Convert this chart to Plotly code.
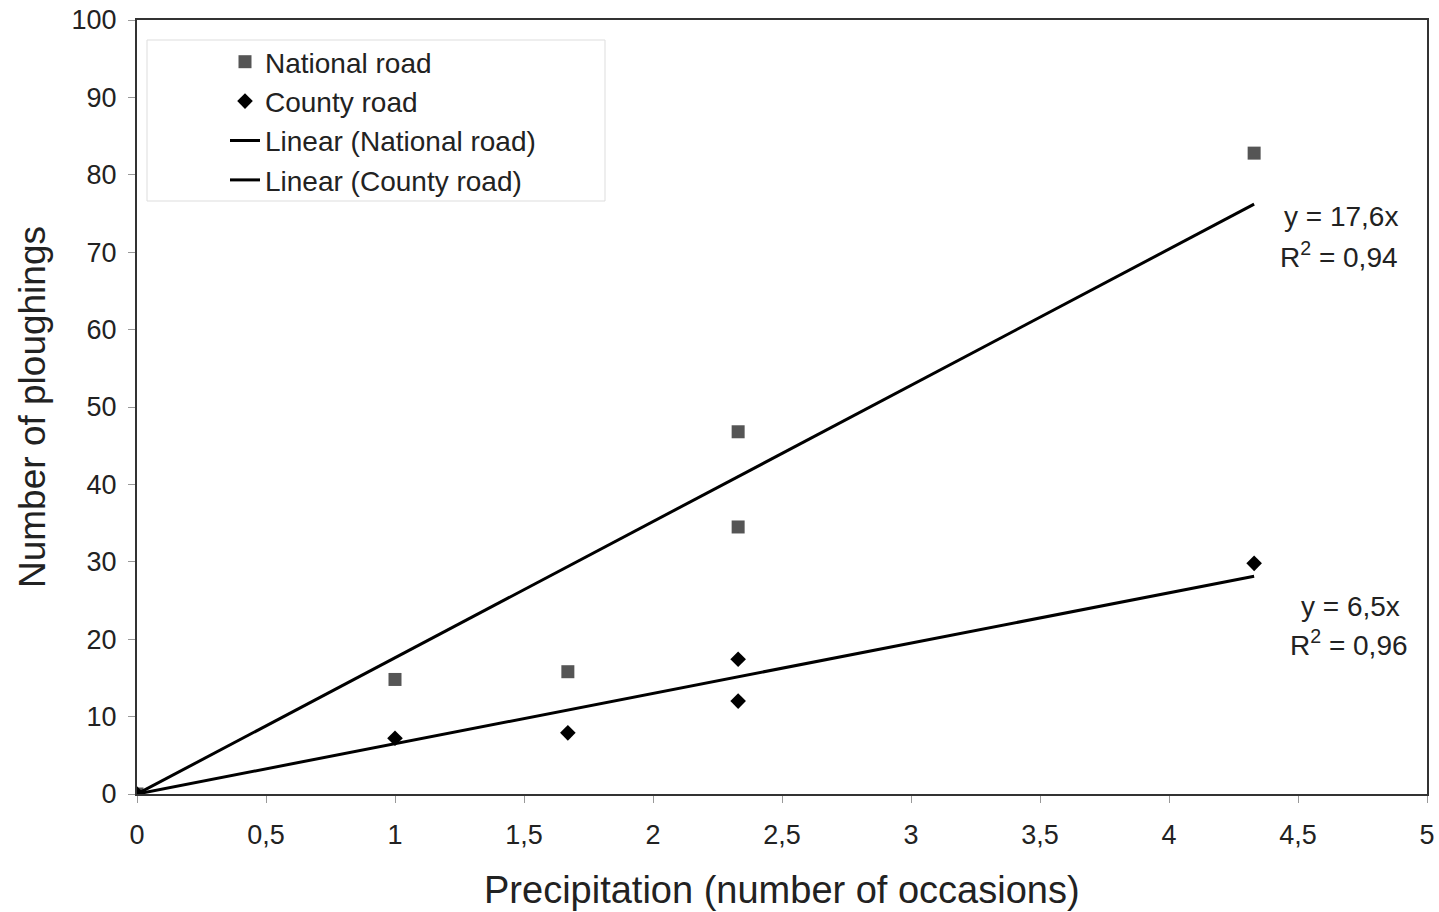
import plotly.graph_objects as go

# Data
x_national = [0, 1, 1.67, 2.33, 2.33, 4.33]
y_national = [0, 14.8, 15.8, 46.8, 34.5, 82.8]
x_county = [0, 1, 1.67, 2.33, 2.33, 4.33]
y_county = [0, 7.2, 7.9, 17.4, 12.0, 29.8]
slope_national = 17.6
slope_county = 6.5
r2_national = "0,94"
r2_county = "0,96"
trend_x = [0, 4.33]
x_ticks = [0, 0.5, 1, 1.5, 2, 2.5, 3, 3.5, 4, 4.5, 5]
x_tick_labels = ["0", "0,5", "1", "1,5", "2", "2,5", "3", "3,5", "4", "4,5", "5"]
y_ticks = list(range(0, 101, 10))

FONT = "Liberation Sans, Arial, sans-serif"
TXT = "#222222"
L, R, T, B = 137, 12, 20, 118
W, H = 1439, 912
PW, PH = W - L - R, H - T - B


def px_x(p):
    return (p - L) / PW


def px_y(p):
    return (H - B - p) / PH


fig = go.Figure()
fig.add_trace(go.Scatter(x=x_national, y=y_national, mode="markers", name="National road",
                         legendgroup="a",
                         marker=dict(symbol="square", size=13, color="#555555")))
fig.add_trace(go.Scatter(x=x_county, y=y_county, mode="markers", name="County road",
                         legendgroup="b",
                         marker=dict(symbol="diamond", size=12, color="#000000")))
fig.add_trace(go.Scatter(x=trend_x, y=[slope_national * v for v in trend_x], mode="lines",
                         name="Linear (National road)", legendgroup="c",
                         line=dict(color="#000000", width=3)))
fig.add_trace(go.Scatter(x=trend_x, y=[slope_county * v for v in trend_x], mode="lines",
                         name="Linear (County road)", legendgroup="d",
                         line=dict(color="#000000", width=3)))

eq_lines = [
    (f"y = {str(slope_national).replace('.', ',')}x", 1400, 217),
    (f"R<sup>2</sup> = {r2_national}", 1400, 255),
    (f"y = {str(slope_county).replace('.', ',')}x", 1402, 606),
    (f"R<sup>2</sup> = {r2_county}", 1410, 643),
]
for text, xr, yc in eq_lines:
    fig.add_annotation(x=px_x(xr), y=px_y(yc), xref="paper", yref="paper",
                       xanchor="right", yanchor="middle", text=text, showarrow=False,
                       font=dict(family=FONT, size=28, color=TXT))

# legend frame
fig.add_shape(type="rect", xref="paper", yref="paper",
              x0=px_x(147), x1=px_x(605), y0=px_y(201), y1=px_y(40),
              line=dict(color="#dddddd", width=1), fillcolor="white", layer="below")

fig.update_layout(
    width=W, height=H,
    margin=dict(l=L, r=R, t=T, b=B),
    plot_bgcolor="white", paper_bgcolor="white",
    font=dict(family=FONT, color=TXT),
    showlegend=True,
    legend=dict(x=px_x(225), y=px_y(37), xanchor="left", yanchor="top",
                bgcolor="rgba(0,0,0,0)", borderwidth=0,
                traceorder="grouped", tracegroupgap=0,
                font=dict(family=FONT, size=28, color=TXT)),
    xaxis=dict(range=[0, 5], tickvals=x_ticks, ticktext=x_tick_labels, automargin=False,
               showgrid=False, zeroline=False, showline=True, linecolor="#333333", linewidth=2,
               mirror=True, ticks="outside", ticklen=7, tickcolor="#999999",
               ticklabelstandoff=9,
               tickfont=dict(size=27, color=TXT)),
    yaxis=dict(range=[0, 100], tickvals=y_ticks, automargin=False,
               showgrid=False, zeroline=False, showline=True, linecolor="#333333", linewidth=2,
               mirror=True, ticks="outside", ticklen=7, tickcolor="#999999",
               ticklabelstandoff=6,
               tickfont=dict(size=27, color=TXT)),
)

# axis titles as annotations at fixed pixel positions
fig.add_annotation(x=px_x(782), y=px_y(890), xref="paper", yref="paper",
                   text="Precipitation (number of occasions)", showarrow=False,
                   xanchor="center", yanchor="middle",
                   font=dict(family=FONT, size=38, color=TXT))
fig.add_annotation(x=px_x(32), y=px_y(407), xref="paper", yref="paper",
                   text="Number of ploughings", showarrow=False, textangle=-90,
                   xanchor="center", yanchor="middle",
                   font=dict(family=FONT, size=37, color=TXT))

fig.write_html("out.html")
